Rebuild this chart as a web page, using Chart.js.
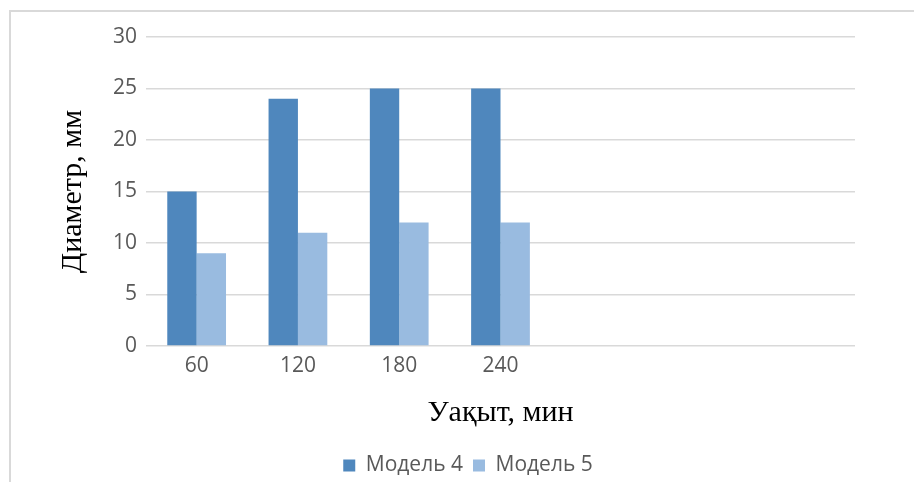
<!DOCTYPE html>
<html>
<head>
<meta charset="utf-8">
<script src="https://cdn.jsdelivr.net/npm/chart.js@4.4.0/dist/chart.umd.min.js"></script>
<style>
    body { margin: 0; background: #fff; }
    #wrap { position: relative; width: 914px; height: 482px; overflow: hidden; }
    #frame { position: absolute; left: 9px; top: 10px; width: 940px; height: 500px; border: 2px solid #d9d9d9; }
    #chart { position: absolute; left: 0; top: 0; }
</style>
</head>
<body>
<div id="wrap">
    <div id="frame"></div>
    <canvas id="chart" width="914" height="482"></canvas>
</div>
<script>
const categories = ['60', '120', '180', '240', '', '', ''];
const model4 = [15, 24, 25, 25];
const model5 = [9, 11, 12, 12];
const seriesNames = ['Модель 4', 'Модель 5'];

const textColor = '#595959';
const tickFont = { family: 'Open Sans', size: 21 };
const titleFont = { family: 'Liberation Serif', size: 30 };

const ctx = document.getElementById('chart').getContext('2d');

new Chart(ctx, {
    type: 'bar',
    data: {
        labels: categories,
        datasets: [
            {
                label: seriesNames[0],
                data: model4,
                backgroundColor: '#4f87bd',
                categoryPercentage: 0.58,
                barPercentage: 1
            },
            {
                label: seriesNames[1],
                data: model5,
                backgroundColor: '#99bbe0',
                categoryPercentage: 0.58,
                barPercentage: 1
            }
        ]
    },
    options: {
        responsive: false,
        animation: false,
        layout: {
            padding: { top: 37, right: 0, left: 22, bottom: -4 }
        },
        plugins: {
            tooltip: { enabled: false },
            legend: {
                position: 'bottom',
                labels: {
                    color: textColor,
                    font: tickFont,
                    boxWidth: 12,
                    boxHeight: 12,
                    padding: 10
                }
            }
        },
        scales: {
            x: {
                grid: { display: false, drawTicks: false },
                border: { display: false },
                ticks: { color: textColor, font: tickFont, padding: 7 },
                title: {
                    display: true,
                    text: 'Уақыт, мин',
                    color: '#000',
                    font: titleFont,
                    padding: { top: 0, bottom: 14 }
                },
                afterFit: (scale) => { scale.height = 99; }
            },
            y: {
                min: 0,
                max: 30,
                grid: { color: '#d9d9d9', lineWidth: 1.5, drawTicks: false },
                border: { display: false },
                ticks: { stepSize: 5, color: textColor, font: tickFont, padding: 9 },
                title: {
                    display: true,
                    text: 'Диаметр, мм',
                    color: '#000',
                    font: titleFont,
                    padding: { top: 33, bottom: 0 }
                },
                afterFit: (scale) => { scale.width = 124; }
            },
            // empty right-hand space beside the plot area
            yRight: {
                position: 'right',
                grid: { display: false, drawTicks: false },
                border: { display: false },
                ticks: { display: false },
                afterFit: (scale) => { scale.width = 59; }
            }
        }
    }
});
</script>
</body>
</html>
